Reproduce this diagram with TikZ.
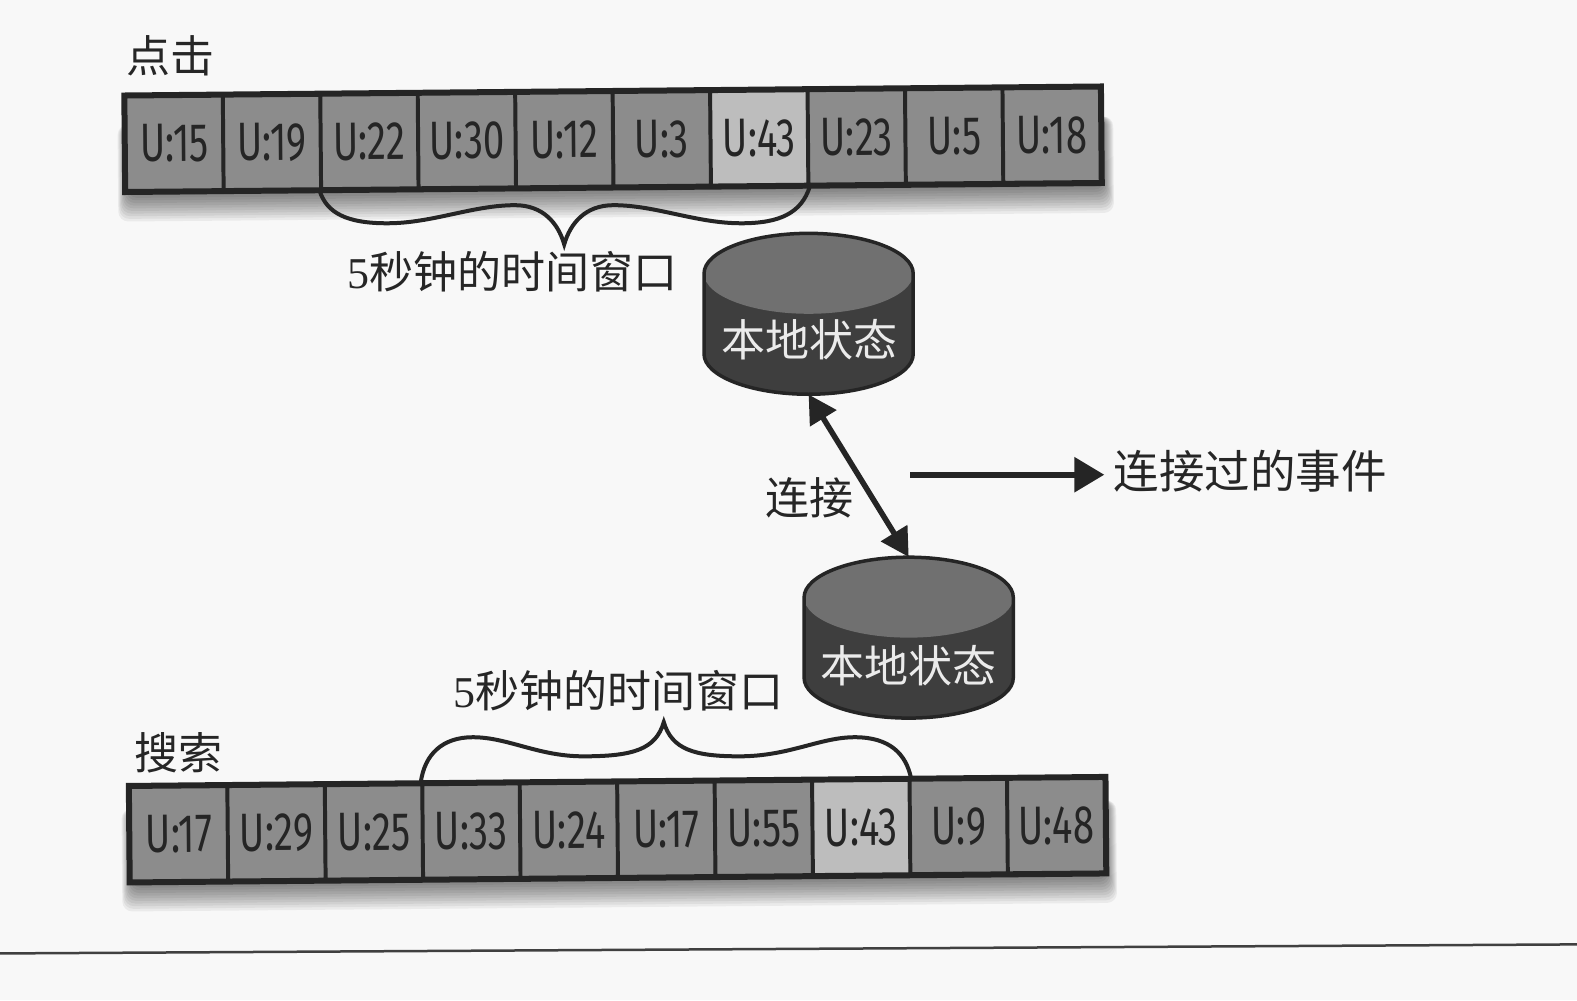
\documentclass[tikz,border=0pt]{standalone}
\usepackage{fontspec}
\usetikzlibrary{arrows.meta}
\setmainfont{Liberation Serif}
\newfontfamily\cjk{Noto Sans CJK SC}
\newfontfamily\cellfont[FakeStretch=0.71]{Fira Sans}
\definecolor{ink}{HTML}{252525}
\definecolor{paper}{HTML}{F8F8F8}
\definecolor{cellgrey}{HTML}{8C8C8C}
\definecolor{cellhi}{HTML}{BDBDBD}
\definecolor{cyltop}{HTML}{707070}
\definecolor{cylbody}{HTML}{3E3E3E}
\tikzset{
  x=1.0057pt,y=-1.0057pt,
  cellbox/.style={draw=ink,line width=3.5pt,fill=cellgrey,text=ink,minimum width=97pt,minimum height=94pt,inner sep=0pt,rotate=0.5,font=\cellfont\fontsize{54}{54}\selectfont},
  hicell/.style={cellbox,fill=cellhi},
  barframe/.style={draw=ink,line width=5pt,line join=miter},
  label/.style={text=black!85,inner sep=0pt,font=\cjk\fontsize{44}{44}\selectfont},
  state/.style={rectangle,draw=none,minimum width=209pt,minimum height=161pt,inner sep=0pt},
  statetext/.style={text=white!92!black,inner sep=0pt,font=\cjk\fontsize{44}{44}\selectfont},
  link/.style={draw=ink,line width=5.5pt,{Triangle[length=28pt,width=30pt]}-{Triangle[length=28pt,width=30pt]}},
  outflow/.style={draw=ink,line width=6pt,-{Triangle[length=30pt,width=34pt]}},
  bracket/.style={draw=ink,line width=4pt,line cap=round},
  softshadow/.style={fill=black,fill opacity=0.055,rounded corners=10pt},
}
\newcommand{\dbdraw}[1]{%
  \begin{scope}[shift={(#1.center)}]
    \fill[cylbody] (-104,-40) -- (-104,40) .. controls (-104,62) and (-57,80) .. (0,80)
      .. controls (57,80) and (104,62) .. (104,40) -- (104,-40)
      .. controls (104,-62) and (57,-80) .. (0,-80)
      .. controls (-57,-80) and (-104,-62) .. (-104,-40) -- cycle;
    \fill[cyltop] (-104,-40) .. controls (-104,-62) and (-57,-80) .. (0,-80)
      .. controls (57,-80) and (104,-62) .. (104,-40)
      .. controls (104,-18) and (57,0) .. (0,0)
      .. controls (-57,0) and (-104,-18) .. (-104,-40) -- cycle;
    \draw[ink,line width=3.5pt] (-104,-40) -- (-104,40) .. controls (-104,62) and (-57,80) .. (0,80)
      .. controls (57,80) and (104,62) .. (104,40) -- (104,-40)
      .. controls (104,-62) and (57,-80) .. (0,-80)
      .. controls (-57,-80) and (-104,-62) .. (-104,-40) -- cycle;
  \end{scope}}
\begin{document}
\begin{tikzpicture}
\useasboundingbox (0,0) rectangle (1568,994.3);
\fill[paper] (0,0) rectangle (1568,994.3);
% shadows
\foreach \s in {0,2,...,20}{
  \fill[softshadow,rotate around={0.5:(610,140)}] (127-\s*0.5,120) rectangle (1097+\s*0.5,190+\s*1.3);
  \fill[softshadow,rotate around={0.5:(615,825)}] (131-\s*0.5,800) rectangle (1100+\s*0.5,876+\s*1.3);
}
% top bar
\foreach \i/\t/\st [count=\n from 0] in {t1/15/cellbox,t2/19/cellbox,t3/22/cellbox,t4/30/cellbox,t5/12/cellbox,t6/3/cellbox,t7/43/hicell,t8/23/cellbox,t9/5/cellbox,t10/18/cellbox}{
  \node[\st] (\i) at ({173.5+96.9*\n},{142.5-0.9*\n}) {U:\t};
}
% bottom bar
\foreach \i/\t/\st [count=\n from 0] in {b1/17/cellbox,b2/29/cellbox,b3/25/cellbox,b4/33/cellbox,b5/24/cellbox,b6/17/cellbox,b7/55/cellbox,b8/43/hicell,b9/9/cellbox,b10/48/cellbox}{
  \node[\st] (\i) at ({178+96.9*\n},{829-0.9*\n}) {U:\t};
}
\draw[barframe] (t1.north west) -- (t10.north east) -- (t10.south east) -- (t1.south west) -- cycle;
\draw[barframe] (b1.north west) -- (b10.north east) -- (b10.south east) -- (b1.south west) -- cycle;
% braces
\draw[bracket] (t3.south west) .. controls (325,212) and (345,222) .. (385,222)
  .. controls (430,222) and (470,204) .. (512,204)
  .. controls (540,204) and (555,222) .. (561,243)
  .. controls (567,222) and (582,204) .. (610,204)
  .. controls (652,204) and (692,222) .. (737,222)
  .. controls (775,222) and (797,212) .. (t7.south east);
\draw[bracket] (b4.north west) .. controls (422,750) and (440,733) .. (470,733)
  .. controls (505,733) and (535,752) .. (580,752)
  .. controls (630,752) and (652,745) .. (660,718)
  .. controls (668,745) and (690,752) .. (735,752)
  .. controls (785,752) and (815,733) .. (850,733)
  .. controls (885,733) and (901,750) .. (b8.north east);
% cylinders
\node[state] (s1) at (804,312) {};
\node[state] (s2) at (903.5,634) {};
\dbdraw{s1}
\dbdraw{s2}
\node[statetext] (s1t) at (805,338) {本地状态};
\node[statetext] (s2t) at (903,662) {本地状态};
% labels
\node[label] (clicks) at (170,55) {点击};
\node[label] (search) at (177,748) {搜索};
\node[label] (win1) at (510,270) {{\rmfamily\fontsize{44}{44}\selectfont 5}秒钟的时间窗口};
\node[label] (win2) at (615,687) {{\rmfamily\fontsize{44}{44}\selectfont 5}秒钟的时间窗口};
\node[label] (join) at (805,495) {连接};
\node[label,anchor=west,font=\cjk\fontsize{45.5}{46}\selectfont] (out) at (1107,468) {连接过的事件};
% connectors
\draw[link] (s1.south) -- (s2.north);
\coordinate (outstart) at (905,472);
\coordinate (outend) at (1098,472);
\draw[outflow] (outstart) -- (outend);
% page rule
\coordinate (ruleL) at (0,948);
\coordinate (ruleR) at (1568,939);
\draw[line width=2.5pt,black!75] (ruleL) -- (ruleR);
\end{tikzpicture}
\end{document}
